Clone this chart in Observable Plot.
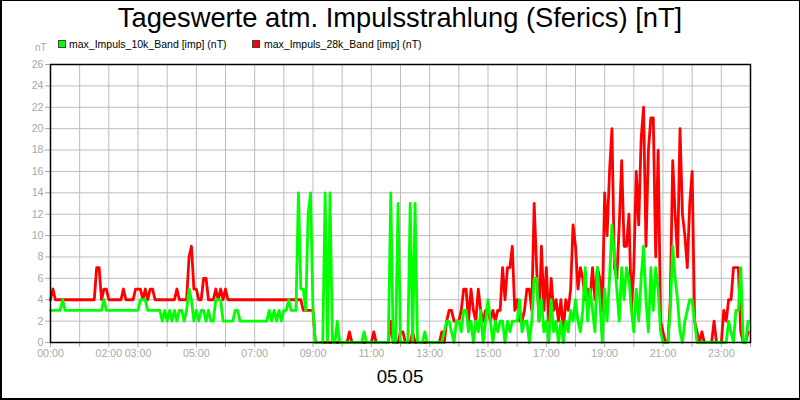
<!DOCTYPE html>
<html>
<head>
<meta charset="utf-8">
<script src="https://cdn.jsdelivr.net/npm/d3@7"></script>
<script src="https://cdn.jsdelivr.net/npm/@observablehq/plot@0.6"></script>
<style>
  html, body { margin: 0; padding: 0; background: #fff; }
  body { font-family: "Liberation Sans", Arial, sans-serif; }
  #wrap { position: relative; width: 800px; height: 400px; overflow: hidden; background: #fff; }
  #chart { position: absolute; left: 0; top: 0; }
  .abs { position: absolute; white-space: nowrap; }
  #title { left: 0; width: 800px; top: 3.5px; text-align: center; font-size: 27.3px; line-height: 28px; color: #000; }
  .lg-box { position: absolute; width: 6px; height: 6px; border: 1px solid #444; top: 40px; }
  .lg-text { font-size: 10.5px; line-height: 12px; top: 38.4px; color: #000; }
  #unit { left: 35px; top: 42px; font-size: 10px; line-height: 12px; color: #a8a8a8; }
  #date { left: 0; width: 800px; text-align: center; top: 366.5px; font-size: 18.67px; line-height: 20px; color: #000; }
  #border { position: absolute; left: 0; top: 0; width: 800px; height: 400px; box-sizing: border-box;
            border-top: 1px solid #000; border-right: 1px solid #000; border-left: 2px solid #000; border-bottom: 2px solid #000; pointer-events: none; }
</style>
</head>
<body>
<div id="wrap">
  <div id="chart"></div>
  <div id="title" class="abs">Tageswerte atm. Impulsstrahlung (Sferics) [nT]</div>
  <div class="lg-box" style="left:58px;background:#00ff00;"></div>
  <div class="abs lg-text" style="left:69px;">max_Impuls_10k_Band [imp] (nT)</div>
  <div class="lg-box" style="left:252px;background:#ff0000;"></div>
  <div class="abs lg-text" style="left:264px;">max_Impuls_28k_Band [imp] (nT)</div>
  <div id="unit" class="abs">nT</div>
  <div id="date" class="abs">05.05</div>
  <div id="border"></div>
</div>
<script>
// 5-minute values, one row per hour (00:00 ... 23:55)
const impuls28k = [
  4,5,4,4,4,4,4,4,4,4,4,4,
  4,4,4,4,4,4,4,7,7,4,5,5,
  4,4,4,4,4,4,5,4,4,4,4,5,
  5,5,4,5,4,5,5,4,4,4,4,4,
  4,4,4,4,5,4,4,4,4,8,9,5,
  5,4,4,6,6,4,4,4,5,4,5,4,
  5,4,4,4,4,4,4,4,4,4,4,4,
  4,4,4,4,4,4,4,4,4,4,4,4,
  4,4,4,4,4,4,4,4,3,3,3,3,
  3,0,0,0,0,0,0,0,0,0,0,0,
  0,0,0,1,0,0,0,0,0,0,0,0,
  0,1,0,0,0,0,0,0,2,0,0,0,
  1,1,0,0,0,1,0,0,0,0,0,0,
  0,0,0,0,0,1,0,2,3,3,2,2,
  2,3,5,5,2,5,3,2,5,3,2,3,
  3,2,3,2,3,3,7,4,7,7,9,3,
  4,2,2,3,5,5,3,13,7,2,9,3,
  7,2,6,3,4,2,4,1,4,3,5,11,
  9,5,7,6,4,5,4,7,4,7,6,3,
  14,10,16,20,7,6,11,17,9,9,12,3,
  7,16,11,19,22,9,18,21,21,8,18,2,
  1,0,0,4,17,12,8,20,12,10,7,13,
  16,2,1,0,1,0,0,0,0,2,0,0,
  0,3,2,4,4,7,7,7,1,0,0,1
];
const impuls10k = [
  3,3,3,3,3,4,3,3,3,3,3,3,
  3,3,3,3,3,3,3,3,3,3,4,3,
  3,3,3,3,3,3,3,3,3,3,3,3,
  3,4,4,4,3,3,3,3,3,3,2,3,
  2,3,2,3,2,3,3,2,3,5,4,2,
  3,2,3,3,2,3,2,2,4,4,4,2,
  2,2,2,2,3,3,2,2,2,2,2,2,
  2,2,2,2,2,2,3,2,3,2,3,2,
  3,3,4,3,3,3,14,5,5,3,12,14,
  3,0,0,0,0,14,0,14,0,0,2,0,
  0,0,0,0,0,0,0,0,0,1,0,0,
  0,0,0,0,0,0,0,0,14,0,0,13,
  0,0,0,0,13,0,13,0,0,0,1,0,
  0,0,0,0,0,0,1,2,2,1,0,2,
  2,1,3,3,1,2,0,2,1,3,0,2,
  4,2,0,2,1,2,2,0,2,1,2,2,
  2,4,1,2,2,0,2,6,6,2,4,1,
  2,0,4,1,2,0,2,0,2,1,3,2,
  4,2,1,3,7,2,5,3,1,7,4,0,
  5,2,6,11,8,5,2,7,4,7,6,3,
  1,5,2,6,9,4,1,7,3,7,5,1,
  0,0,0,3,9,6,4,1,0,2,3,4,
  4,2,0,0,0,0,0,0,0,0,0,0,
  0,0,0,2,1,0,3,3,7,0,0,2
];
const hourTicks = [0,1,2,3,4,5,6,7,8,9,10,11,12,13,14,15,16,17,18,19,20,21,22,23,24];
const labelHours = [0,2,3,5,7,9,11,13,15,17,19,21,23];
const labelTexts = ["00:00","02:00","03:00","05:00","07:00","09:00","11:00","13:00","15:00","17:00","19:00","21:00","23:00"];
const yTicks = [0,2,4,6,8,10,12,14,16,18,20,22,24,26];

const times = impuls28k.map((_, i) => i * 5 / 60);
const labelMap = new Map(labelHours.map((h, i) => [h, labelTexts[i]]));

const chart = Plot.plot({
  width: 800,
  height: 400,
  marginLeft: 50,
  marginRight: 50,
  marginTop: 64,
  marginBottom: 58,
  style: { background: "transparent", fontFamily: "'Liberation Sans', Arial, sans-serif", fontSize: "10.67px", overflow: "visible" },
  x: { domain: [0, 24], label: null },
  y: { domain: [0, 26], label: null },
  marks: [
    Plot.gridX(hourTicks, { stroke: "#bdbdbd", strokeOpacity: 1 }),
    Plot.gridY(yTicks, { stroke: "#bdbdbd", strokeOpacity: 1 }),
    Plot.axisX(hourTicks, { tickSize: 5, tickPadding: 2, tickFormat: h => labelMap.get(h) ?? "", color: "#a8a8a8", label: null }),
    Plot.axisY(yTicks, { tickSize: 5, tickPadding: 2, color: "#a8a8a8", label: null }),
    Plot.line(impuls28k, { x: times, y: impuls28k, stroke: "#ff0000", strokeWidth: 2.8 }),
    Plot.line(impuls10k, { x: times, y: impuls10k, stroke: "#00ff00", strokeWidth: 2.8 }),
    Plot.frame({ stroke: "#000", strokeWidth: 1.5 })
  ]
});
document.getElementById("chart").appendChild(chart);
</script>
</body>
</html>
